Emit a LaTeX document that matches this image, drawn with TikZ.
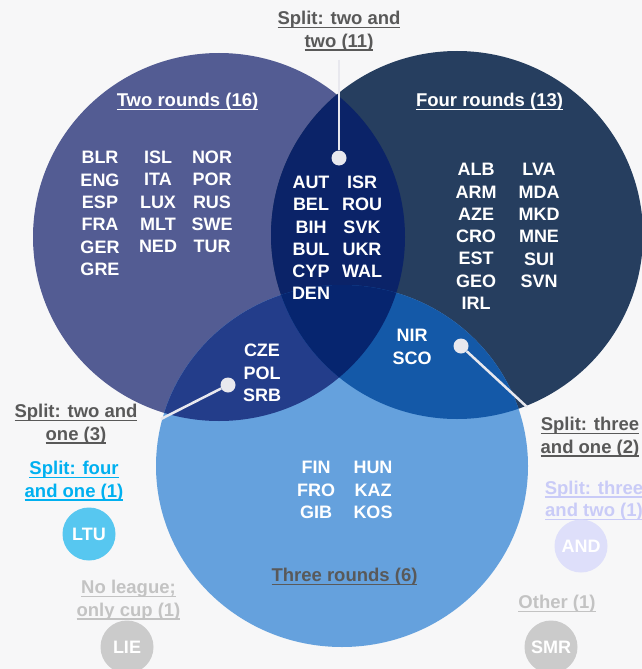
\documentclass[tikz,border=0pt]{standalone}
\usepackage{fontspec}
\setmainfont{Liberation Sans}

\definecolor{tworounds}{HTML}{535C93}
\definecolor{fourrounds}{HTML}{263E5F}
\definecolor{threerounds}{HTML}{65A1DD}
\definecolor{twofour}{HTML}{0B2368}
\definecolor{twothree}{HTML}{233D8A}
\definecolor{fourthree}{HTML}{1459A8}
\definecolor{allthree}{HTML}{06256F}
\definecolor{labelgrey}{HTML}{595959}
\definecolor{fourone}{HTML}{00B0F0}
\definecolor{ltucol}{HTML}{57C7F0}
\definecolor{paleviolet}{HTML}{C9CBF7}
\definecolor{andcol}{HTML}{DEDFFA}
\definecolor{nocup}{HTML}{C3C3C3}
\definecolor{nocupdisc}{HTML}{CBCBCB}
\definecolor{pointer}{HTML}{E8E8EE}
\definecolor{backdrop}{HTML}{F7F7F8}

\newcommand{\ulbl}[1]{\leavevmode\setbox0\hbox{#1}\rlap{\rule[-3.5pt]{\wd0}{1.4pt}}\box0}

\tikzset{
  codes/.style={text=white,font=\fontsize{18}{22.3}\selectfont\bfseries,align=center,inner sep=0pt},
  heading/.style={font=\fontsize{18.5}{22.5}\selectfont\bfseries,align=center,inner sep=0pt},
  disc/.style={circle,minimum size=53pt,inner sep=0pt,text=white,font=\fontsize{18}{20}\selectfont\bfseries},
  pointerdot/.style={circle,fill=pointer,minimum size=15pt,inner sep=0pt},
  pointerline/.style={pointer,line width=2.5pt}
}

\begin{document}
\begin{tikzpicture}
[x=1pt,y=-1pt]

\fill[backdrop] (0,0) rectangle (642,669);
\useasboundingbox (0,0) rectangle (642,669);

\fill[tworounds] (219,237) ellipse [x radius=186,y radius=184]; %two rounds
\fill[fourrounds] (457,235) ellipse [x radius=186,y radius=184]; %four rounds
\fill[threerounds] (342,466) ellipse [x radius=186,y radius=181]; %three rounds

\begin{scope}
\clip (219,237) ellipse [x radius=186,y radius=184];
\fill[twofour] (457,235) ellipse [x radius=186,y radius=184];
\fill[twothree] (342,466) ellipse [x radius=186,y radius=181];
\end{scope}
\begin{scope}
\clip (457,235) ellipse [x radius=186,y radius=184];
\fill[fourthree] (342,466) ellipse [x radius=186,y radius=181];
\end{scope}
\begin{scope}
\clip (219,237) ellipse [x radius=186,y radius=184];
\clip (457,235) ellipse [x radius=186,y radius=184];
\fill[allthree] (342,466) ellipse [x radius=186,y radius=181]; %all three
\end{scope}

% pointers
\node[pointerdot] (dotTwoTwo) at (339,158) {};
\node[pointerdot] (dotTwoOne) at (228,385) {};
\node[pointerdot] (dotThreeOne) at (461,346) {};
\coordinate (tipTwoTwo) at (339,60);
\coordinate (tipTwoOne) at (161,419);
\coordinate (tipThreeOne) at (527,407);
\draw[pointerline] (tipTwoTwo) -- (dotTwoTwo);
\draw[pointerline] (tipTwoOne) -- (dotTwoOne);
\draw[pointerline] (tipThreeOne) -- (dotThreeOne);

% countries
\node[codes] (twoA) at (100,213.5) {BLR\\ENG\\ESP\\FRA\\GER\\GRE};
\node[codes] (twoB) at (158,202) {ISL\\ITA\\LUX\\MLT\\NED};
\node[codes] (twoC) at (212,202) {NOR\\POR\\RUS\\SWE\\TUR};
\node[codes] (twofourA) at (311,238) {AUT\\BEL\\BIH\\BUL\\CYP\\DEN};
\node[codes] (twofourB) at (362,227) {ISR\\ROU\\SVK\\UKR\\WAL};
\node[codes] (fourA) at (476,236.5) {ALB\\ARM\\AZE\\CRO\\EST\\GEO\\IRL};
\node[codes] (fourB) at (539,225.5) {LVA\\MDA\\MKD\\MNE\\SUI\\SVN};
\node[codes] (twothreeA) at (262,373) {CZE\\POL\\SRB};
\node[codes] (fourthreeA) at (412,347) {NIR\\SCO};
\node[codes] (threeA) at (316,490) {FIN\\FRO\\GIB};
\node[codes] (threeB) at (373,490) {HUN\\KAZ\\KOS};

% headings
\node[heading,text=white] (twoHead) at (187.5,102) {\ulbl{Two rounds (16)}};
\node[heading,text=white] (fourHead) at (489.5,102) {\ulbl{Four rounds (13)}};
\node[heading,text=labelgrey] (threeHead) at (344.5,577) {\ulbl{Three rounds (6)}};
\node[heading,text=labelgrey] (splitTwoTwo) at (339,31) {\ulbl{Split: two and}\\\ulbl{two (11)}};
\node[heading,text=labelgrey] (splitTwoOne) at (76,424) {\ulbl{Split: two and}\\\ulbl{one (3)}};
\node[heading,text=labelgrey] (splitThreeOne) at (590,437) {\ulbl{Split: three}\\\ulbl{and one (2)}};
\node[heading,text=fourone] (splitFourOne) at (74,481) {\ulbl{Split: four}\\\ulbl{and one (1)}};
\node[heading,text=paleviolet] (splitThreeTwo) at (594,500.5) {\ulbl{Split: three}\\\ulbl{and two (1)}};
\node[heading,text=nocup] (noLeague) at (128.5,600) {\ulbl{No league;}\\\ulbl{only cup (1)}};
\node[heading,text=nocup] (other) at (557,604) {\ulbl{Other (1)}};

% single countries
\node[disc,fill=ltucol] (ltuDisc) at (89,534) {LTU};
\node[disc,fill=andcol] (andDisc) at (581,546) {AND};
\node[disc,fill=nocupdisc] (lieDisc) at (127,647) {LIE};
\node[disc,fill=nocupdisc] (smrDisc) at (551,647) {SMR};

\end{tikzpicture}
\end{document}
